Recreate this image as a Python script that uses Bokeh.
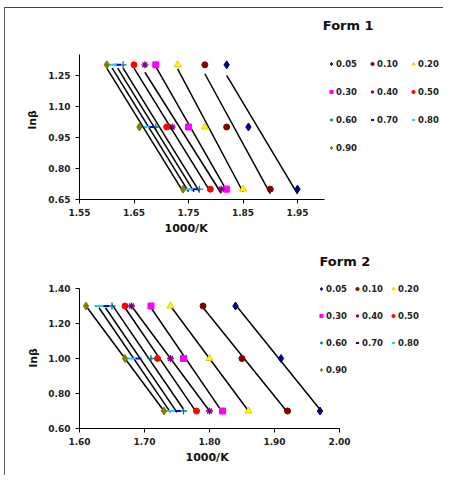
from bokeh.plotting import figure
from bokeh.models import (FixedTicker, NumeralTickFormatter, Legend, LegendItem,
                          Label, Range1d, Title)
from bokeh.layouts import column
from bokeh.embed import file_html
from bokeh.resources import INLINE

# ---------------- data ----------------
series_labels = ["0.05", "0.10", "0.20", "0.30", "0.40", "0.50", "0.60", "0.70", "0.80", "0.90"]
ln_beta_levels = [1.30, 1.00, 0.70]

# Form 1: 1000/K of each series at lnβ = 1.30, 1.00, 0.70
form1_x_at_130 = [1.82, 1.78, 1.73, 1.69, 1.67, 1.65, 1.63, 1.62, 1.61, 1.60]
form1_x_at_100 = [1.86, 1.82, 1.78, 1.75, 1.72, 1.71, 1.69, 1.68, 1.67, 1.66]
form1_x_at_070 = [1.95, 1.90, 1.85, 1.82, 1.81, 1.79, 1.77, 1.76, 1.75, 1.74]

# Form 2
form2_x_at_130 = [1.84, 1.79, 1.74, 1.71, 1.68, 1.67, 1.65, 1.64, 1.63, 1.61]
form2_x_at_100 = [1.91, 1.85, 1.80, 1.76, 1.74, 1.72, 1.71, 1.69, 1.68, 1.67]
form2_x_at_070 = [1.97, 1.92, 1.86, 1.82, 1.80, 1.78, 1.76, 1.75, 1.74, 1.73]

form1_x_ticks = [1.55, 1.65, 1.75, 1.85, 1.95]
form1_y_ticks = [0.65, 0.80, 0.95, 1.10, 1.25]
form2_x_ticks = [1.60, 1.70, 1.80, 1.90, 2.00]
form2_y_ticks = [0.60, 0.80, 1.00, 1.20, 1.40]

# ---------------- styles ----------------
marker_styles = [
    dict(marker="diamond", fill_color="#000080", line_color="#000080", size=8),
    dict(marker="circle", fill_color="#800000", line_color="#800000", size=6),
    dict(marker="triangle", fill_color="#FFFF00", line_color="#E8C800", size=7),
    dict(marker="square", fill_color="#FF00FF", line_color="#FF00FF", size=6),
    dict(marker="asterisk", line_color="#800080", size=7, line_width=1.3),
    dict(marker="circle", fill_color="#FF0000", line_color="#FF0000", size=6),
    dict(marker="cross", line_color="#008080", size=7, line_width=1.3),
    dict(marker="dash", line_color="#0000FF", size=7, line_width=2),
    dict(marker="dash", line_color="#22CCFF", size=9, line_width=2),
    dict(marker="diamond", fill_color="#808000", line_color="#808000", size=8),
]

FONT = "DejaVu Sans"


def fit_line(xs, ys):
    n = len(xs)
    mx = sum(xs) / n
    my = sum(ys) / n
    sxy = sum((a - mx) * (b - my) for a, b in zip(xs, ys))
    sxx = sum((a - mx) ** 2 for a in xs)
    k = sxy / sxx
    x0, x1 = min(xs), max(xs)
    return [x0, x1], [my + k * (x0 - mx), my + k * (x1 - mx)]


def make_chart(title, rows, xb, yb, xticks, yticks, px_x, px_y, width, height,
               bl, bt, bb, legend_loc, legend_glyph_h, legend_spacing,
               title_dx_px, title_dy_px, xlab_offset, ylab_offset, ylab_standoff):
    # frame extends to the right / top so that legend and title fit inside it
    fw = width - bl
    fh = height - bt - bb
    xr = (xb[0], xb[0] + fw / px_x)
    yr = (yb[0], yb[0] + fh / px_y)
    p = figure(width=width, height=height,
               x_range=Range1d(*xr), y_range=Range1d(*yr),
               output_backend="svg", toolbar_location=None,
               min_border_left=bl, min_border_right=0,
               min_border_top=bt, min_border_bottom=bb,
               background_fill_color="white", border_fill_color="white")
    p.outline_line_color = None
    p.xgrid.visible = False
    p.ygrid.visible = False

    for ax, ticks, bnds in ((p.xaxis, xticks, xb), (p.yaxis, yticks, yb)):
        ax.ticker = FixedTicker(ticks=ticks)
        ax.bounds = bnds
        ax.formatter = NumeralTickFormatter(format="0.00")
        ax.axis_line_color = "black"
        ax.axis_line_width = 1
        ax.major_tick_line_color = "black"
        ax.major_tick_out = 4
        ax.major_tick_in = 0
        ax.minor_tick_line_color = None
        ax.major_label_text_font = FONT
        ax.major_label_text_font_style = "bold"
        ax.major_label_text_font_size = "9px"
        ax.major_label_text_color = "#222222"
    p.xaxis.major_label_standoff = 5
    p.yaxis.major_label_standoff = 5

    # axis titles placed over the axis extent (not the extended frame)
    p.add_layout(Title(text="1000/K", align="left", offset=xlab_offset, standoff=2,
                       text_font=FONT, text_font_style="bold", text_font_size="11px",
                       text_color="#111111"), "below")
    p.add_layout(Title(text="lnβ", align="left", offset=ylab_offset, standoff=ylab_standoff,
                       text_font=FONT, text_font_style="bold", text_font_size="11px",
                       text_color="#111111"), "left")

    items = []
    for i, lab in enumerate(series_labels):
        xs = [r[i] for r in rows]
        lx, ly = fit_line(xs, ln_beta_levels)
        p.line(lx, ly, line_color="black", line_width=1.5)
        r = p.scatter(xs, ln_beta_levels, **marker_styles[i])
        items.append(LegendItem(label=lab, renderers=[r]))

    legend = Legend(items=items, ncols=3, orientation="horizontal",
                    location=legend_loc, glyph_width=8,
                    glyph_height=legend_glyph_h, label_height=legend_glyph_h,
                    label_standoff=1, spacing=legend_spacing, padding=0, margin=0,
                    border_line_color=None, background_fill_alpha=0,
                    label_text_font=FONT, label_text_font_style="bold",
                    label_text_font_size="8.5px", label_text_color="#222222")
    p.add_layout(legend)

    p.add_layout(Label(x=xb[1] + title_dx_px / px_x, y=yb[1] + title_dy_px / px_y,
                       text=title, text_font=FONT, text_font_style="bold",
                       text_font_size="13px", text_color="#111111",
                       text_align="left", text_baseline="middle"))
    return p


p1 = make_chart("Form 1",
                [form1_x_at_130, form1_x_at_100, form1_x_at_070],
                (1.55, 2.00), (0.65, 1.35), form1_x_ticks, form1_y_ticks,
                252 / 0.45, 145 / 0.70, 438, 237, 64, 2, 46,
                (248, 43), 17, 11, -2, 29, 85, 70, 14)

p2 = make_chart("Form 2",
                [form2_x_at_130, form2_x_at_100, form2_x_at_070],
                (1.60, 2.00), (0.60, 1.40), form2_x_ticks, form2_y_ticks,
                260 / 0.40, 140 / 0.80, 438, 230, 74, 2, 47,
                (238, 48), 21, 6, -20, 27, 106, 61, 11)

layout = column(p1, p2, spacing=0,
                styles={"border-top": "1px solid #444444",
                        "border-left": "1px solid #666666",
                        "margin-top": "7px", "margin-left": "4px"})

open("out.html", "w").write(file_html(layout, INLINE))
